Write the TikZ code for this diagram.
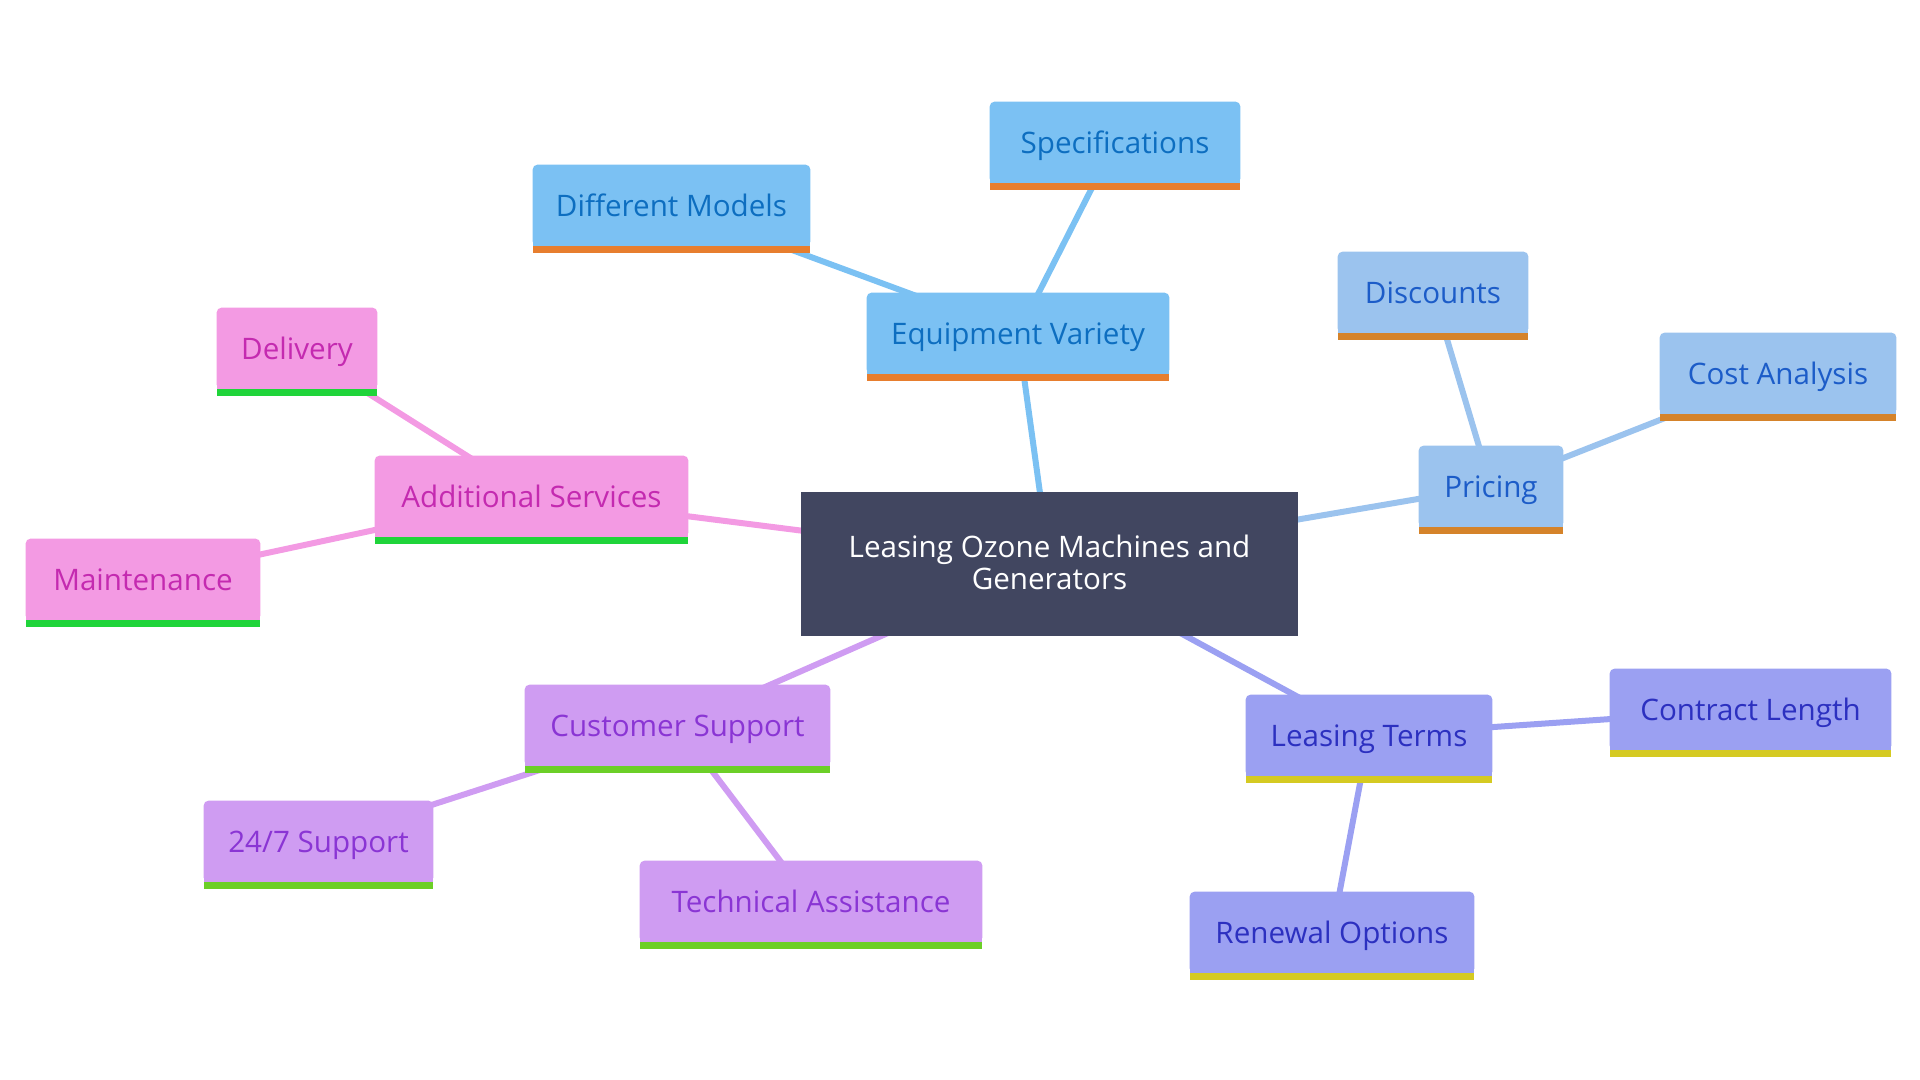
\documentclass[tikz,border=0pt]{standalone}
\usepackage{fontspec}
\setmainfont{Open Sans}
\usetikzlibrary{calc}
\pgfdeclarelayer{edges}
\pgfdeclarelayer{bg}
\pgfsetlayers{edges,bg,main}
\definecolor{rootF}{HTML}{414660}
\definecolor{eqF}{HTML}{7BC1F3}\definecolor{eqT}{HTML}{0D6EC0}\definecolor{eqB}{HTML}{E77E2E}
\definecolor{prF}{HTML}{9BC3EE}\definecolor{prT}{HTML}{1C5CC8}\definecolor{prB}{HTML}{D5832A}
\definecolor{adF}{HTML}{F39AE3}\definecolor{adT}{HTML}{C42AB0}\definecolor{adB}{HTML}{1FD43A}
\definecolor{csF}{HTML}{CF9CF2}\definecolor{csT}{HTML}{8A35D4}\definecolor{csB}{HTML}{6CCF27}
\definecolor{ltF}{HTML}{9BA0F2}\definecolor{ltT}{HTML}{2C30C0}\definecolor{ltB}{HTML}{D5CA22}
\tikzset{
  box/.style={inner sep=0pt, minimum height=40.5pt, text height=14.6pt, text depth=3.6pt,
    font=\fontsize{14.8pt}{16pt}\selectfont},
  rootbox/.style={inner sep=0pt, minimum width=248.5pt, minimum height=72pt, align=center,
    text=white, font=\fontsize{14.8pt}{16pt}\selectfont},
  eqn/.style={box, text=eqT},
  prn/.style={box, text=prT},
  adn/.style={box, text=adT},
  csn/.style={box, text=csT},
  ltn/.style={box, text=ltT},
  link/.style={line width=3pt},
}
\begin{document}
\begin{tikzpicture}[x=0.5pt,y=-0.5pt]
\useasboundingbox (0,0) rectangle (1920,1080);
% nodes
\node[rootbox] (root) at (1049.5,562) {Leasing Ozone Machines and\\Generators};
\node[eqn, minimum width=151pt] (eq) at (1018,333.5) {Equipment Variety};
\node[eqn, minimum width=125pt] (spec) at (1115,142.5) {Specifications};
\node[eqn, minimum width=138.5pt] (dm) at (671.5,205.5) {Different Models};
\node[prn, minimum width=72pt] (pr) at (1491,486.5) {Pricing};
\node[prn, minimum width=95pt] (disc) at (1433,292.5) {Discounts};
\node[prn, minimum width=118pt] (cost) at (1778,373.5) {Cost Analysis};
\node[adn, minimum width=156.5pt] (ad) at (531.5,496.5) {Additional Services};
\node[adn, minimum width=80pt] (deliv) at (297,348.5) {Delivery};
\node[adn, minimum width=117pt] (maint) at (143,579.5) {Maintenance};
\node[csn, minimum width=152.5pt] (cs) at (677.5,725.5) {Customer Support};
\node[csn, minimum width=114.5pt] (sup) at (318.5,841.5) {24/7 Support};
\node[csn, minimum width=171pt] (tech) at (811,901.5) {Technical Assistance};
\node[ltn, minimum width=123pt] (lt) at (1369,735.5) {Leasing Terms};
\node[ltn, minimum width=140.5pt] (cl) at (1750.5,709.5) {Contract Length};
\node[ltn, minimum width=142pt] (ro) at (1332,932.5) {Renewal Options};
% node backgrounds
\begin{pgfonlayer}{bg}
\fill[rootF] ($(root.south west)+(0,2)$) rectangle ($(root.north east)+(0,2)$);
\foreach \n/\f/\b in {eq/eqF/eqB, spec/eqF/eqB, dm/eqF/eqB,
    pr/prF/prB, disc/prF/prB, cost/prF/prB,
    ad/adF/adB, deliv/adF/adB, maint/adF/adB,
    cs/csF/csB, sup/csF/csB, tech/csF/csB,
    lt/ltF/ltB, cl/ltF/ltB, ro/ltF/ltB}{
  \fill[\f, rounded corners=2.5pt] (\n.south west) rectangle (\n.north east);
  \fill[\f] (\n.south west) rectangle ($(\n.south east)+(0,-12)$);
  \fill[\b] (\n.south west) rectangle ($(\n.south east)+(0,7)$);
}
\end{pgfonlayer}
% connectors
\begin{pgfonlayer}{edges}
\draw[link, eqF] (root.center) -- (eq.center);
\draw[link, eqF] (eq.center) -- (spec.center);
\draw[link, eqF] (eq.center) -- (dm.center);
\draw[link, prF] (root.center) -- (pr.center);
\draw[link, prF] (pr.center) -- (disc.center);
\draw[link, prF] (pr.center) -- (cost.center);
\draw[link, adF] (root.center) -- (ad.center);
\draw[link, adF] (ad.center) -- (deliv.center);
\draw[link, adF] (ad.center) -- (maint.center);
\draw[link, csF] (root.center) -- (cs.center);
\draw[link, csF] (cs.center) -- (sup.center);
\draw[link, csF] (cs.center) -- (tech.center);
\draw[link, ltF] (root.center) -- (lt.center);
\draw[link, ltF] (lt.center) -- (cl.center);
\draw[link, ltF] (lt.center) -- (ro.center);
\end{pgfonlayer}
\end{tikzpicture}
\end{document}
